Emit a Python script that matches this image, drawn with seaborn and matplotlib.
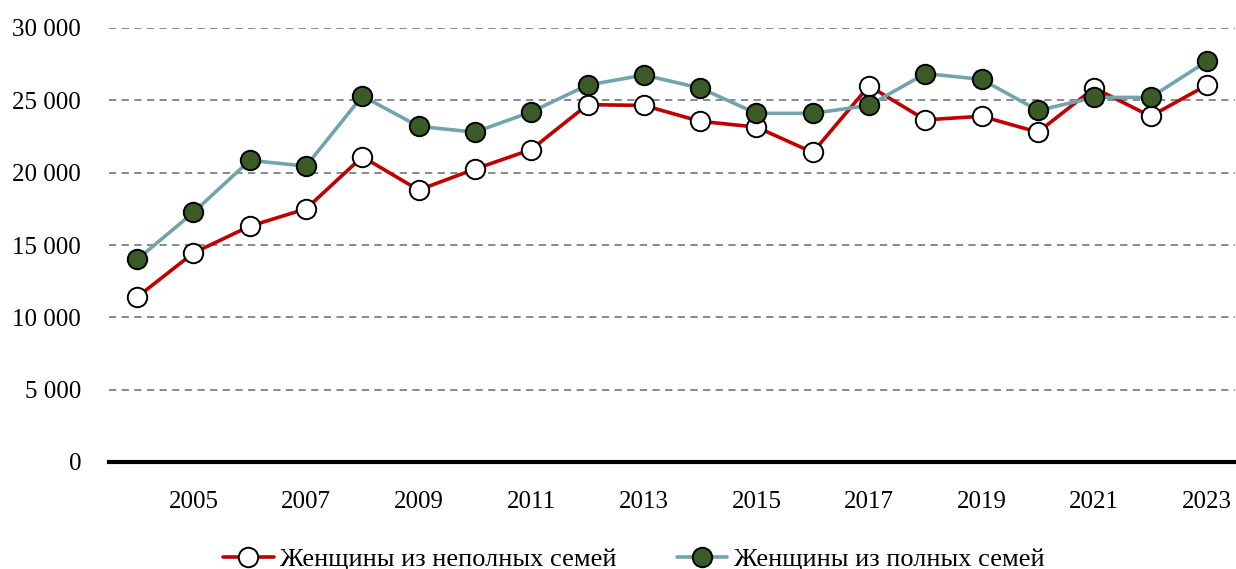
import pandas as pd
import matplotlib.pyplot as plt
import matplotlib.ticker as mticker
import seaborn as sns

# years and the two series
years = list(range(2004, 2024))
incomplete = [11400, 14450, 16300, 17500, 21100, 18800, 20250, 21600, 24700, 24650,
              23550, 23150, 21400, 26000, 23650, 23900, 22800, 25850, 23900, 26050]
complete = [14000, 17250, 20850, 20450, 25300, 23200, 22800, 24200, 26050, 26750,
            25850, 24100, 24100, 24650, 26850, 26450, 24300, 25200, 25200, 27700]
label_incomplete = 'Женщины из неполных семей'
label_complete = 'Женщины из полных семей'
tick_years = list(range(2005, 2024, 2))

df = pd.DataFrame({'year': years, 'incomplete': incomplete, 'complete': complete})

sns.set_style('white')
plt.rcParams['font.family'] = ['Liberation Serif', 'DejaVu Serif']
plt.rcParams['text.color'] = 'black'
plt.rcParams['xtick.color'] = 'black'
plt.rcParams['ytick.color'] = 'black'

fig, ax = plt.subplots(figsize=(12.36, 5.69), dpi=100)
fig.subplots_adjust(left=109 / 1236, right=1235 / 1236, top=1 - 28 / 569, bottom=1 - 462 / 569)

# red line, white markers
sns.lineplot(data=df, x='year', y='incomplete', ax=ax, color='#C00000', linewidth=2.6,
             marker='o', markersize=14, markerfacecolor='white', markeredgecolor='black',
             markeredgewidth=1.4, label=label_incomplete, zorder=3)
# teal line, dark green markers
sns.lineplot(data=df, x='year', y='complete', ax=ax, color='#72A4AE', linewidth=2.6,
             marker='o', markersize=14, markerfacecolor='#3A5A26', markeredgecolor='black',
             markeredgewidth=1.4, label=label_complete, zorder=4)

ax.set_xlim(2003.5, 2023.5)
ax.set_ylim(0, 30000)
ax.set_yticks(range(0, 30001, 5000))
ax.yaxis.set_major_formatter(mticker.FuncFormatter(lambda v, p: f'{int(v):,}'.replace(',', ' ')))
ax.set_xticks(tick_years)
ax.set_xticklabels([str(y) for y in tick_years])
ax.set_xlabel('')
ax.set_ylabel('')

# dashed grey gridlines
ax.yaxis.grid(True, color='#808080', linestyle=(0, (4, 3)), linewidth=1.3)
ax.xaxis.grid(False)
ax.set_axisbelow(True)

for s in ['top', 'right', 'left']:
    ax.spines[s].set_visible(False)
ax.spines['bottom'].set_color('black')
ax.spines['bottom'].set_linewidth(3)
ax.spines['bottom'].set_zorder(5)

ax.tick_params(axis='x', length=0, pad=21, labelsize=18)
ax.tick_params(axis='y', length=0, pad=20, labelsize=18)

ax.get_legend().remove()
handles, labels = ax.get_legend_handles_labels()
fig.legend(handles, labels, loc='lower center', bbox_to_anchor=(0.513, -0.045), ncol=2,
           frameon=False, fontsize=19, handlelength=1.9, handletextpad=0.25, columnspacing=2.3)

plt.savefig('out.png', dpi=100)
